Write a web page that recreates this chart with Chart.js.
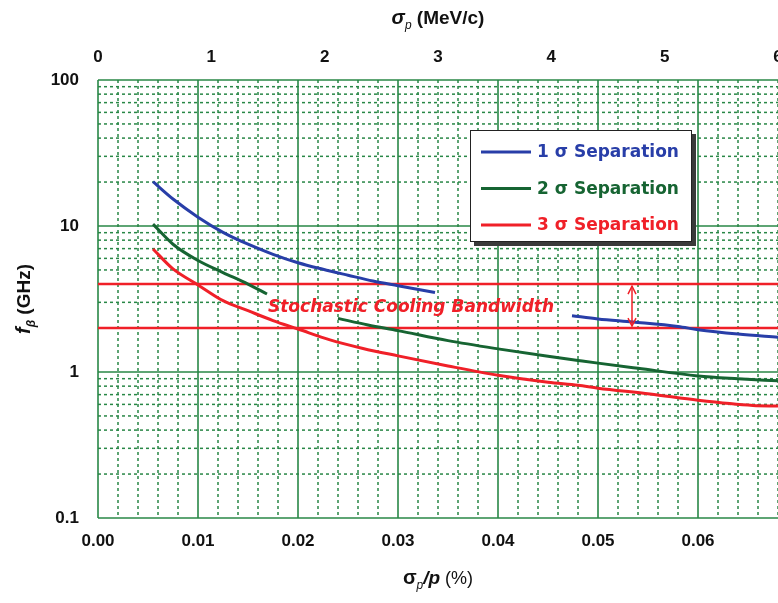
<!DOCTYPE html>
<html><head><meta charset="utf-8">
<script src="https://cdn.jsdelivr.net/npm/chart.js@4.4.1/dist/chart.umd.min.js"></script>
<style>html,body{margin:0;padding:0;background:#fff;overflow:hidden}canvas{display:block}</style>
</head><body>
<canvas id="c" width="778" height="603"></canvas>
<script>
// ---- data ----
const sep1X = [0.0055, 0.0075, 0.010, 0.0125, 0.015, 0.0175, 0.020, 0.0225, 0.025, 0.0275, 0.030, 0.0337, 0.040, 0.0474, 0.050, 0.0535, 0.058, 0.060, 0.064, 0.068];
const sep1F = [20.1, 15.3, 11.5, 9.05, 7.5, 6.4, 5.6, 5.05, 4.6, 4.2, 3.9, 3.5, null, 2.43, 2.31, 2.2, 2.05, 1.95, 1.82, 1.73];
const sep2X = [0.0055, 0.0075, 0.010, 0.0125, 0.015, 0.0169, 0.020, 0.024, 0.027, 0.030, 0.035, 0.040, 0.045, 0.048, 0.050, 0.054, 0.060, 0.064, 0.068];
const sep2F = [10.3, 7.5, 5.8, 4.8, 4.0, 3.42, null, 2.33, 2.1, 1.92, 1.64, 1.44, 1.28, 1.2, 1.15, 1.06, 0.94, 0.9, 0.87];
const sep3X = [0.0055, 0.0075, 0.010, 0.0125, 0.015, 0.0175, 0.020, 0.0232, 0.0265, 0.030, 0.035, 0.040, 0.045, 0.048, 0.050, 0.0552, 0.060, 0.0655, 0.068];
const sep3F = [6.96, 5.08, 3.95, 3.08, 2.63, 2.25, 1.97, 1.66, 1.45, 1.29, 1.10, 0.95, 0.85, 0.81, 0.775, 0.707, 0.64, 0.59, 0.585];
const seriesLabels = ['1 \u03c3 Separation', '2 \u03c3 Separation', '3 \u03c3 Separation'];
const bandX = [0, 0.068];
const bandUpper = [4, 4];
const bandLower = [2, 2];
const bandLabel = 'Stochastic Cooling Bandwidth';
const arrowX = 0.0534;
const xRange = [0, 0.068];          // sigma_p / p (%)
const x2Range = [0, 6];             // sigma_p (MeV/c)
const yRange = [0.1, 100];          // f_beta (GHz)
const yTickLabels = [0.1, 1, 10, 100];

// ---- styles ----
const BLUE = 'rgb(40,62,168)', GREEN = 'rgb(22,100,50)', RED = 'rgb(240,32,40)';
const GRID = 'rgb(40,135,70)';
const TICKFONT = {family: "'Liberation Sans', Arial, sans-serif", size: 17, weight: 'bold'};
const pts = (xs, ys) => xs.map((x, i) => ({x, y: ys[i]}));

function richText(ctx, parts, x, y, align) {
  let w = 0;
  parts.forEach(p => { ctx.font = p.font; w += ctx.measureText(p.t).width; });
  let cx = align === 'center' ? x - w / 2 : x;
  parts.forEach(p => { ctx.font = p.font; ctx.fillText(p.t, cx, y + (p.dy || 0)); cx += ctx.measureText(p.t).width; });
}

const decor = {
  id: 'decor',
  beforeDatasetsDraw(chart) {
    const {ctx, chartArea: a, scales: {x, y}} = chart;
    ctx.save();
    ctx.beginPath(); ctx.rect(a.left - 1, a.top - 1, a.right - a.left + 2, a.bottom - a.top + 2); ctx.clip();
    ctx.strokeStyle = GRID; ctx.lineWidth = 1.5;
    ctx.setLineDash([3, 3]);
    for (let i = 1; i * 0.002 <= xRange[1] + 1e-9; i++) {
      if (i % 5 === 0) continue;
      const px = x.getPixelForValue(i * 0.002);
      ctx.beginPath(); ctx.moveTo(px, a.top); ctx.lineTo(px, a.bottom); ctx.stroke();
    }
    for (const d of [0.1, 1, 10]) for (let m = 2; m <= 9; m++) {
      const py = y.getPixelForValue(d * m);
      ctx.beginPath(); ctx.moveTo(a.left, py); ctx.lineTo(a.right, py); ctx.stroke();
    }
    ctx.setLineDash([]); ctx.lineWidth = 1.6;
    for (let i = 0; i * 0.01 <= xRange[1] + 1e-9; i++) {
      const px = x.getPixelForValue(i * 0.01);
      ctx.beginPath(); ctx.moveTo(px, a.top); ctx.lineTo(px, a.bottom); ctx.stroke();
    }
    for (const d of [0.1, 1, 10, 100]) {
      const py = y.getPixelForValue(d);
      ctx.beginPath(); ctx.moveTo(a.left, py); ctx.lineTo(a.right, py); ctx.stroke();
    }
    ctx.restore();
  },
  afterDatasetsDraw(chart) {
    const {ctx, chartArea: a, scales: {x, y}} = chart;
    ctx.save();
    // annotation text
    ctx.fillStyle = RED; ctx.textBaseline = 'alphabetic'; ctx.textAlign = 'left';
    ctx.font = "italic bold 17px 'DejaVu Sans'";
    ctx.fillText(bandLabel, x.getPixelForValue(0.0170), y.getPixelForValue(2.58));
    // double arrow
    const ax = x.getPixelForValue(arrowX), y1 = y.getPixelForValue(bandUpper[0]), y2 = y.getPixelForValue(bandLower[0]);
    ctx.strokeStyle = RED; ctx.lineWidth = 1.5;
    ctx.beginPath(); ctx.moveTo(ax, y1 + 2); ctx.lineTo(ax, y2 - 2); ctx.stroke();
    ctx.beginPath(); ctx.moveTo(ax - 4, y1 + 10); ctx.lineTo(ax, y1 + 2); ctx.lineTo(ax + 4, y1 + 10); ctx.stroke();
    ctx.beginPath(); ctx.moveTo(ax - 4, y2 - 10); ctx.lineTo(ax, y2 - 2); ctx.lineTo(ax + 4, y2 - 10); ctx.stroke();
    // legend
    const L = a.left + 372, T = a.top + 50, W = 222, H = 112;
    ctx.fillStyle = '#3a3a3a'; ctx.fillRect(L + 4, T + 4, W, H);
    ctx.fillStyle = '#fff'; ctx.fillRect(L, T, W, H);
    ctx.strokeStyle = '#222'; ctx.lineWidth = 1; ctx.strokeRect(L + 0.5, T + 0.5, W - 1, H - 1);
    chart.data.datasets.slice(0, 3).forEach((ds, i) => {
      const ry = T + 22 + i * 36.5;
      ctx.strokeStyle = ds.borderColor; ctx.lineWidth = 3;
      ctx.beginPath(); ctx.moveTo(L + 11, ry); ctx.lineTo(L + 61, ry); ctx.stroke();
      ctx.fillStyle = ds.borderColor; ctx.font = "bold 17px 'DejaVu Sans'"; ctx.textBaseline = 'middle';
      ctx.fillText(ds.label, L + 67, ry + 1);
    });
    ctx.restore();
  },
  afterDraw(chart) {
    const {ctx, chartArea: a} = chart;
    const cx = (a.left + a.right) / 2;
    ctx.save();
    ctx.fillStyle = '#111'; ctx.textBaseline = 'alphabetic';
    const F = "'Liberation Sans', Arial, sans-serif";
    richText(ctx, [
      {t: '\u03c3', font: `italic bold 20px ${F}`},
      {t: 'p', font: `italic 12px ${F}`, dy: 5},
      {t: ' (MeV/c)', font: `bold 19px ${F}`}
    ], cx, 24, 'center');
    richText(ctx, [
      {t: '\u03c3', font: `bold 20px ${F}`},
      {t: 'p', font: `italic 12px ${F}`, dy: 5},
      {t: '/p', font: `italic bold 19px ${F}`},
      {t: ' (%)', font: `18px ${F}`}
    ], cx, 584, 'center');
    ctx.translate(30, (a.top + a.bottom) / 2);
    ctx.rotate(-Math.PI / 2);
    richText(ctx, [
      {t: 'f', font: `italic bold 20px ${F}`},
      {t: '\u03b2', font: `italic bold 12px ${F}`, dy: 5},
      {t: ' (GHz)', font: `bold 19px ${F}`}
    ], 0, 0, 'center');
    ctx.restore();
  }
};

const isDecade = v => Math.abs(Math.log10(v) - Math.round(Math.log10(v))) < 1e-6;

new Chart(document.getElementById('c'), {
  type: 'line',
  data: {
    datasets: [
      {label: seriesLabels[0], data: pts(sep1X, sep1F), borderColor: BLUE, borderWidth: 3},
      {label: seriesLabels[1], data: pts(sep2X, sep2F), borderColor: GREEN, borderWidth: 3},
      {label: seriesLabels[2], data: pts(sep3X, sep3F), borderColor: RED, borderWidth: 3},
      {label: 'upper', data: pts(bandX, bandUpper), borderColor: RED, borderWidth: 2.5},
      {label: 'lower', data: pts(bandX, bandLower), borderColor: RED, borderWidth: 2.5}
    ]
  },
  options: {
    responsive: false, animation: false, devicePixelRatio: 1,
    layout: {padding: 0},
    elements: {point: {radius: 0}, line: {cubicInterpolationMode: 'monotone', borderCapStyle: 'butt'}},
    spanGaps: false,
    plugins: {legend: {display: false}, tooltip: {enabled: false}},
    scales: {
      x: {
        type: 'linear', position: 'bottom', min: xRange[0], max: xRange[1],
        grid: {display: false, drawTicks: false}, border: {display: false},
        ticks: {stepSize: 0.01, includeBounds: false, padding: 13, color: '#111', font: TICKFONT,
                maxRotation: 0, autoSkip: false, callback: v => v.toFixed(2)},
        afterFit: s => { s.height = 85; s.paddingLeft = 0; s.paddingRight = 0; }
      },
      x2: {
        type: 'linear', position: 'top', min: x2Range[0], max: x2Range[1],
        grid: {display: false, drawTicks: false}, border: {display: false},
        ticks: {stepSize: 1, padding: 12, color: '#111', font: TICKFONT, maxRotation: 0, autoSkip: false},
        afterFit: s => { s.height = 80; s.paddingLeft = 0; s.paddingRight = 0; }
      },
      y: {
        type: 'logarithmic', min: yRange[0], max: yRange[1],
        grid: {display: false, drawTicks: false}, border: {display: false},
        ticks: {padding: 19, color: '#111', font: TICKFONT, autoSkip: false,
                callback: v => (isDecade(v) && yTickLabels.some(t => Math.abs(t - v) < 1e-9)) ? String(+v.toPrecision(3)) : ''},
        afterFit: s => { s.width = 98; s.paddingTop = 0; s.paddingBottom = 0; }
      }
    }
  },
  plugins: [decor]
});
</script>
</body></html>
